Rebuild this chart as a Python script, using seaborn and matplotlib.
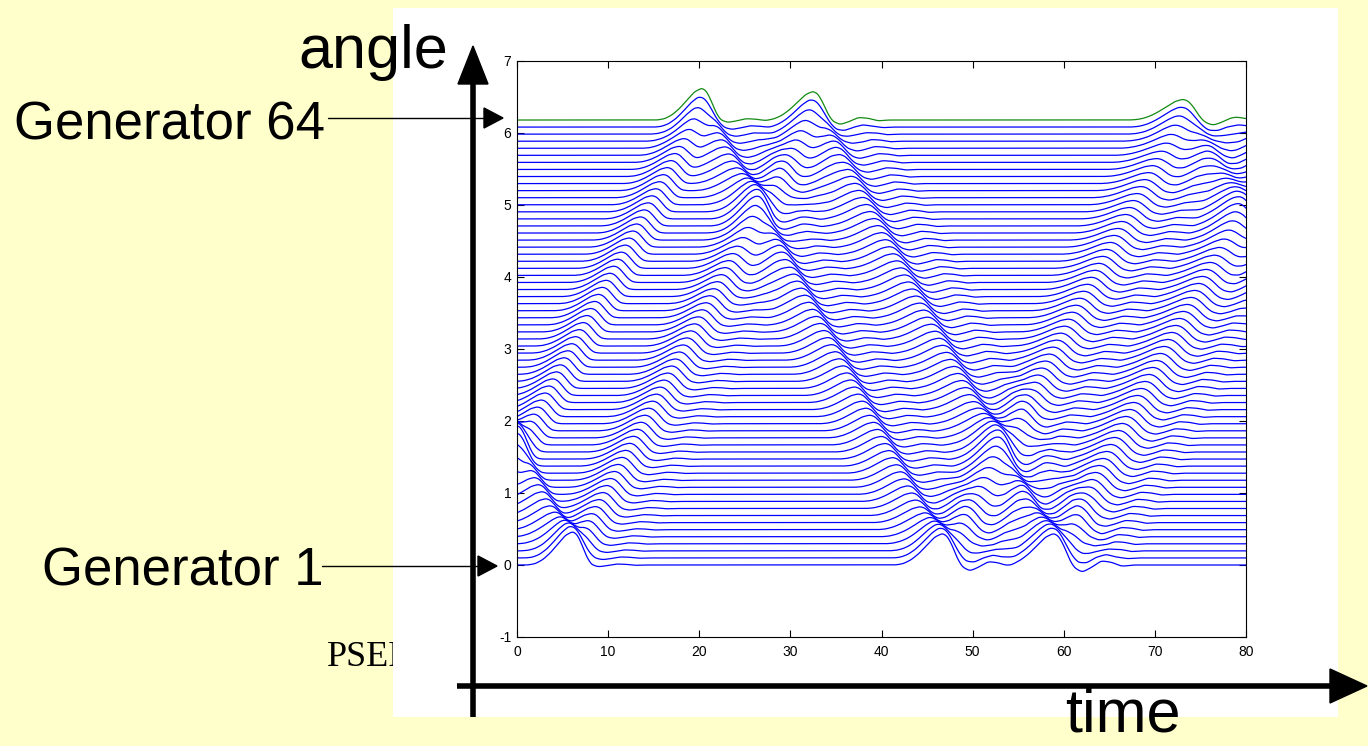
import numpy as np
import pandas as pd
import matplotlib
matplotlib.use("Agg")
import matplotlib.pyplot as plt
import seaborn as sns
from matplotlib.patches import Rectangle, Polygon

# ---- chain of generators -------------------------------------------------
n_gen = 64
angle_step = 0.0981          # spacing of the initial rotor angles
t_end = 80.0
dt = 0.05
gen_delay = 0.419            # seconds for the swing to travel one generator

# shape of one swing passing a generator (seconds from its peak -> angle)
pulse_tau = [-4.8, -4.0, -3.2, -2.4, -1.6, -0.8, 0.0, 0.5, 1.0, 1.5, 2.0, 2.6]
pulse_val = [0.0, 0.01, 0.04, 0.09, 0.155, 0.22, 0.25, 0.225, 0.15, 0.065, 0.012, 0.0]
# trailing ripple that builds up as the swing disperses
ripple_tau = [1.0, 2.0, 2.8, 3.6, 4.6, 5.6, 6.6, 7.6]
ripple_val = [0.0, -0.03, -0.05, -0.02, 0.03, 0.02, -0.01, 0.0]

# swings travelling up (+1) and down (-1) the chain, with reflections at both ends
pass_start_time = [0.0, 0.0, 6.1, 20.3, 32.5, 46.7, 58.9, 73.1]
pass_start_gen = [15.6, 15.6, 1, 64, 64, 1, 1, 64]
pass_direction = [1, -1, 1, -1, -1, 1, 1, -1]
pass_amp_start = [0.95, 0.95, 0.92, 0.88, 0.80, 0.88, 0.88, 0.58]
pass_amp_end = [0.88, 0.92, 0.80, 0.88, 0.88, 0.58, 0.66, 0.52]
pass_width = [1.0, 1.0, 1.05, 1.05, 1.1, 1.12, 1.16, 1.25]
pass_ripple = [0.0, 0.0, 0.5, 0.7, 1.0, 1.1, 1.2, 1.4]

x_ticks = list(range(0, 81, 10))
y_ticks = list(range(-1, 8))

# ---- build the angle traces ----------------------------------------------
time = np.arange(0.0, t_end + dt / 2, dt)
fine = np.arange(-7.0, 10.0, 0.01)
kernel = np.exp(-0.5 * (np.arange(-40, 41) * 0.01 / 0.15) ** 2)
kernel /= kernel.sum()


def smooth_table(tau, val):
    raw = np.interp(fine, tau, val, left=0.0, right=0.0)
    return np.convolve(raw, kernel, mode="same")


pulse_tab = smooth_table(pulse_tau, pulse_val)
ripple_tab = smooth_table(ripple_tau, ripple_val)

frames = []
for g in range(1, n_gen + 1):
    y = np.full_like(time, (g - 1) * angle_step)
    for p in range(len(pass_start_time)):
        dist = pass_direction[p] * (g - pass_start_gen[p])
        t_peak = pass_start_time[p] + dist * gen_delay
        frac = min(abs(g - pass_start_gen[p]) / 63.0, 1.0)
        amp = pass_amp_start[p] + (pass_amp_end[p] - pass_amp_start[p]) * frac
        tau = (time - t_peak) / pass_width[p]
        y = y + amp * (np.interp(tau, fine, pulse_tab)
                       + pass_ripple[p] * np.interp(tau, fine, ripple_tab))
    frames.append(pd.DataFrame({"time": time, "angle": y, "generator": g}))
df = pd.concat(frames, ignore_index=True)

palette = {g: "#0000ff" for g in range(1, n_gen)}
palette[n_gen] = "#138a13"

# ---- figure ----------------------------------------------------------------
sns.set_style("ticks")
plt.rcParams["font.family"] = ["Liberation Sans", "DejaVu Sans"]
plt.rcParams["axes.unicode_minus"] = False

W, H = 1368, 746
fig = plt.figure(figsize=(W / 100, H / 100), dpi=100, facecolor="#ffffcc")

# slide background layer
bg = fig.add_axes([0, 0, 1, 1], zorder=-5)
bg.set_xlim(0, W)
bg.set_ylim(H, 0)
bg.axis("off")
bg.text(327, 666, "PSERC", fontsize=26, family=["Liberation Serif", "DejaVu Serif"],
        ha="left", va="baseline", color="black", zorder=1)
bg.add_patch(Rectangle((393, 8), 1338 - 393, 717 - 8, facecolor="white",
                       edgecolor="none", zorder=2))

# plot
ax = fig.add_axes([517 / W, 1 - 637 / H, (1246 - 517) / W, (637 - 61) / H], zorder=0)
ax.set_facecolor("white")
sns.lineplot(data=df, x="time", y="angle", hue="generator", palette=palette,
             estimator=None, sort=False, legend=False, linewidth=0.9, ax=ax)
ax.set_xlim(0, 80)
ax.set_ylim(-1, 7)
ax.set_xticks(x_ticks)
ax.set_yticks(y_ticks)
ax.set_xlabel("")
ax.set_ylabel("")
ax.tick_params(direction="in", length=5, width=0.8, top=True, right=True,
               labelsize=10, colors="black")
ax.tick_params(axis="x", pad=6)
ax.tick_params(axis="y", pad=4)
for s in ax.spines.values():
    s.set_visible(True)
    s.set_linewidth(0.8)
    s.set_color("black")

# annotation layer
ov = fig.add_axes([0, 0, 1, 1], zorder=5)
ov.set_xlim(0, W)
ov.set_ylim(H, 0)
ov.axis("off")
ov.patch.set_alpha(0)

# big coordinate arrows
ov.plot([473, 473], [717, 80], color="black", lw=4, solid_capstyle="butt")
ov.add_patch(Polygon([(473, 46), (458, 84), (488, 84)], closed=True, color="black"))
ov.plot([457, 1332], [686, 686], color="black", lw=4, solid_capstyle="butt")
ov.add_patch(Polygon([(1367, 686), (1330, 669), (1330, 703)], closed=True, color="black"))

ov.text(298, 68, "angle", fontsize=44, ha="left", va="baseline", color="black")
ov.text(1065, 731, "time", fontsize=44, ha="left", va="baseline", color="black")

# generator pointers
ov.text(14, 139, "Generator 64", fontsize=38, ha="left", va="baseline", color="black")
ov.plot([328, 486], [118, 118], color="black", lw=1.0)
ov.add_patch(Polygon([(503, 118), (484, 108), (484, 128)], closed=True, color="black"))

ov.text(42, 585, "Generator 1", fontsize=38, ha="left", va="baseline", color="black")
ov.plot([322, 479], [566, 566], color="black", lw=1.0)
ov.add_patch(Polygon([(497, 566), (478, 556), (478, 576)], closed=True, color="black"))

fig.savefig("out.png", dpi=100, facecolor=fig.get_facecolor())
